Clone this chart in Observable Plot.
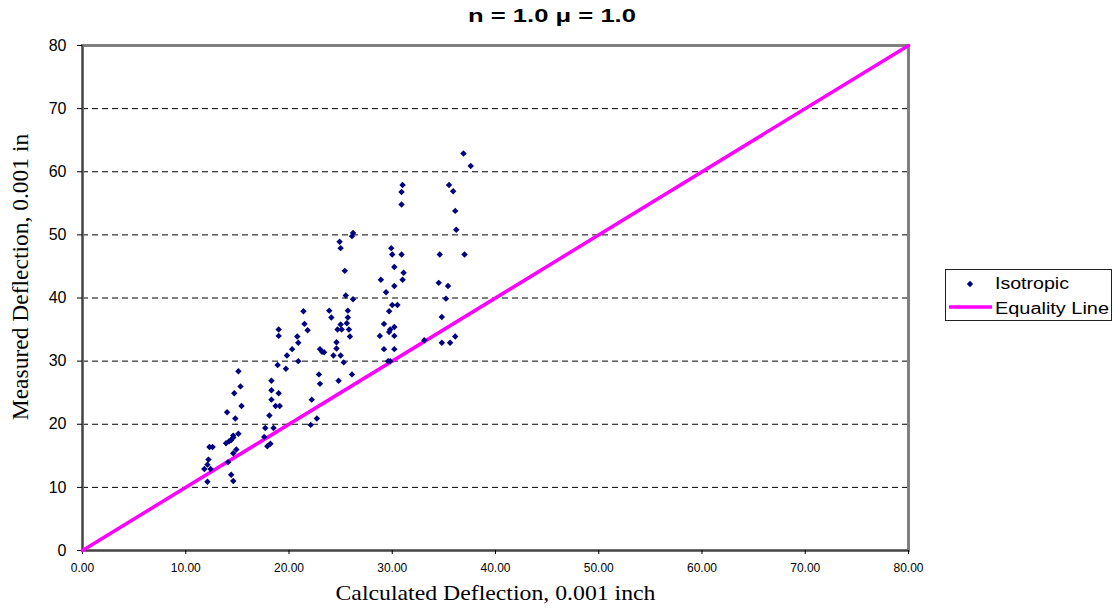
<!DOCTYPE html>
<html><head><meta charset="utf-8">
<script src="https://cdn.jsdelivr.net/npm/d3@7"></script>
<script src="https://cdn.jsdelivr.net/npm/@observablehq/plot@0.6"></script>
<style>
body{margin:0;background:#fff;}
#wrap{position:relative;width:1113px;height:614px;font-family:"Liberation Sans",Arial,sans-serif;}
#title{position:absolute;left:0;top:0;}
#legend{position:absolute;left:945px;top:269px;width:167px;height:52px;border:1px solid #222;box-sizing:border-box;background:#fff;}
#legend svg, #title svg{display:block;}
</style>
</head><body>
<div id="wrap">
<div id="chart"></div>
<div id="title"></div>
<div id="legend"></div>
</div>
<script>
// Isotropic series: calculated (x) and measured (y) deflection, 0.001 in
const isoCalc = [
 15.1,15.3,14.7,15.4,14.0,14.8,15.1,14.6,14.6,14.4,14.2,13.9,12.3,12.6,14.9,14.6,12.2,12.1,11.8,12.4,14.1,14.4,12.1,14.6,
 21.4,21.5,21.8,19.0,19.0,20.8,20.9,20.3,19.8,18.9,19.7,20.9,18.3,18.3,19.0,18.3,18.7,19.1,18.1,17.7,18.5,17.6,18.2,17.9,22.2,22.7,22.1,
 26.2,26.1,24.9,25.0,25.4,25.5,26.2,23.9,25.7,24.1,25.7,25.6,25.0,24.7,25.1,25.8,25.9,24.6,23.0,23.2,23.4,24.6,24.3,25.0,25.3,22.9,23.0,26.1,24.8,
 31.0,30.9,30.9,29.9,30.0,30.9,30.2,31.1,31.0,28.9,30.2,29.4,30.0,30.5,29.7,29.2,30.2,29.8,29.7,28.8,30.2,29.2,30.2,33.1,29.6,29.8,
 36.9,37.6,35.5,35.9,36.1,36.2,34.6,37.0,34.5,35.4,35.2,34.8,36.1,34.8,35.6
];
const isoMeas = [
 28.4,26.0,24.9,22.9,21.9,20.9,18.5,18.2,17.9,17.5,17.3,17.0,16.4,16.4,16.0,15.4,14.4,13.6,12.9,12.9,14.0,12.0,10.9,11.0,
 37.9,35.9,34.9,35.0,34.0,33.9,32.9,31.9,30.9,29.4,28.8,30.0,26.9,25.4,24.9,23.9,22.9,22.9,21.4,19.4,19.4,18.0,16.9,16.5,23.9,20.9,19.9,
 50.3,49.8,48.9,47.9,44.3,40.4,39.8,38.0,38.0,36.9,36.9,36.0,35.8,35.0,35.0,35.0,33.9,33.0,31.9,31.5,31.4,32.0,30.9,30.9,29.8,27.9,26.4,27.9,26.9,
 57.9,56.8,54.8,47.9,46.9,46.9,44.9,44.0,42.9,42.9,41.9,40.9,38.9,38.9,37.9,35.9,35.4,35.0,34.6,34.0,34.0,31.9,31.9,33.3,30.0,30.0,
 62.9,60.9,57.9,56.9,53.8,50.8,46.9,46.9,42.4,41.9,39.9,37.0,33.9,32.9,32.9
];
// Equality line endpoints
const eqX = [0, 80];
const eqY = [0, 80];
// Tick values
const xTicks = [0,10,20,30,40,50,60,70,80];
const yTicks = [0,10,20,30,40,50,60,70,80];
const seriesNames = ["Isotropic", "Equality Line"];
const titleText = "n = 1.0 μ = 1.0";
const xLabel = "Calculated Deflection, 0.001 inch";
const yLabel = "Measured Deflection, 0.001 in";

const pts = isoCalc.map((x, i) => ({x, y: isoMeas[i]}));
const eq = eqX.map((x, i) => ({x, y: eqY[i]}));
const serif = "'Liberation Serif', 'Times New Roman', serif";
const sans = "'Liberation Sans', Arial, sans-serif";

const chart = Plot.plot({
  width: 1113, height: 614,
  marginLeft: 82, marginRight: 205, marginTop: 45, marginBottom: 64,
  x: {domain: [0, 80]},
  y: {domain: [0, 80]},
  style: {fontFamily: sans, background: "#fff"},
  marks: [
    Plot.gridY(yTicks.filter(v => v > 0 && v < 80), {stroke: "#000", strokeOpacity: 1, strokeWidth: 1, strokeDasharray: "6,4"}),
    Plot.frame({stroke: "#808080", strokeWidth: 3}),
    Plot.ruleX([0], {stroke: "#444", strokeWidth: 1.5}),
    Plot.ruleY([0], {stroke: "#444", strokeWidth: 1.5}),
    Plot.axisY(yTicks, {tickSize: 5, tickPadding: 11, fontSize: 16, label: null, stroke: "#000", fill: "#000"}),
    Plot.axisX(xTicks, {tickSize: 4, tickPadding: 9, fontSize: 12, label: null, tickFormat: d3.format(".2f"), stroke: "#000", fill: "#000"}),
    Plot.line(eq, {x: "x", y: "y", stroke: "#FF00FF", strokeWidth: 3.5}),
    Plot.dot(pts, {x: "x", y: "y", symbol: "diamond2", r: 2.9, fill: "#000080", stroke: "none"}),
    Plot.text([xLabel], {frameAnchor: "bottom", dy: 49, fontSize: 22, fontFamily: serif, fill: "#000"}),
    Plot.text([yLabel], {frameAnchor: "left", textAnchor: "middle", rotate: -90, dx: -62, dy: -21, fontSize: 23.5, fontFamily: serif, fill: "#000"})
  ]
});
document.getElementById("chart").appendChild(chart);
// widen the x axis label to the reference's extent
d3.select(chart).selectAll("text").each(function() {
  const t = d3.select(this);
  if (t.text() === xLabel) t.attr("textLength", 320).attr("lengthAdjust", "spacingAndGlyphs");
});

// Title
const ts = d3.select("#title").append("svg").attr("width", 1113).attr("height", 30);
ts.append("text").attr("x", 552).attr("y", 22).attr("text-anchor", "middle")
  .attr("font-size", 19).attr("font-weight", "bold").attr("font-family", sans)
  .attr("textLength", 168).attr("lengthAdjust", "spacingAndGlyphs").text(titleText);

// Legend
const lg = d3.select("#legend").append("svg").attr("width", 165).attr("height", 50);
lg.append("path").attr("d", d3.symbol(d3.symbolDiamond2, 26)()).attr("transform", "translate(24,14)").attr("fill", "#000080");
lg.append("text").attr("x", 49).attr("y", 18.5).text(seriesNames[0]).attr("font-size", 16).attr("font-family", sans)
  .attr("textLength", 74).attr("lengthAdjust", "spacingAndGlyphs");
lg.append("line").attr("x1", 3).attr("x2", 46).attr("y1", 37).attr("y2", 37).attr("stroke", "#FF00FF").attr("stroke-width", 3.5);
lg.append("text").attr("x", 49).attr("y", 44).text(seriesNames[1]).attr("font-size", 16).attr("font-family", sans)
  .attr("textLength", 114).attr("lengthAdjust", "spacingAndGlyphs");
</script>
</body></html>
